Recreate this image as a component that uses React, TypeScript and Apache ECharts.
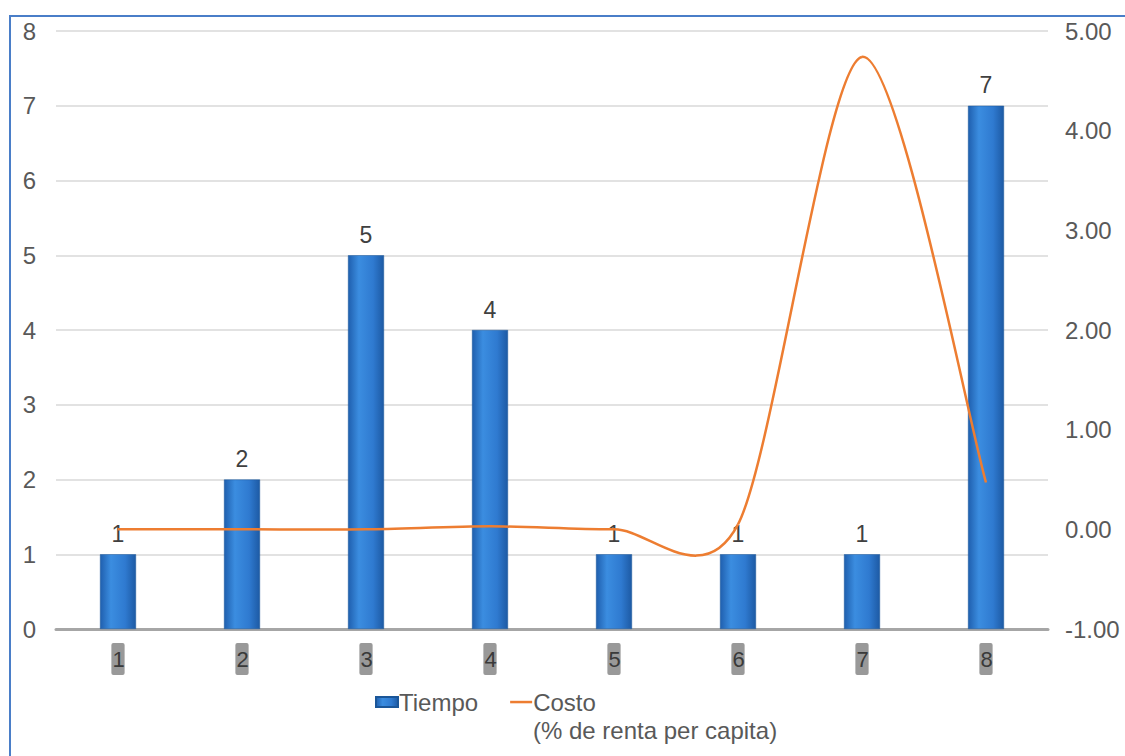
import React, { useEffect, useRef } from "react";
import * as echarts from "echarts";

const categories = ["1", "2", "3", "4", "5", "6", "7", "8"];
const tiempo = [1, 2, 5, 4, 1, 1, 1, 7];
const costo = [0.0, 0.0, 0.0, 0.03, 0.0, 0.05, 4.74, 0.47];
const leftTicks = { min: 0, max: 8, interval: 1 };
const rightTicks = { min: -1, max: 5, interval: 1 };

const FONT = "'Liberation Sans', Arial, sans-serif";
const ORANGE = "#ed7d31";
// Tension of the smoothed cost curve (fraction of the neighbour chord)
const TENSION = 1 / 7;

export default function App() {
  const ref = useRef<HTMLDivElement>(null);

  useEffect(() => {
    if (!ref.current) return;
    const chart = echarts.init(ref.current, undefined, { renderer: "svg" });
    const barGradient = new echarts.graphic.LinearGradient(0, 0, 1, 0, [
      { offset: 0, color: "#1f5fae" },
      { offset: 0.3, color: "#3b8de0" },
      { offset: 0.7, color: "#2f7ad0" },
      { offset: 1, color: "#1d5aa4" },
    ]);

    // Smoothed curve through every cost point, placed with the chart's own axes
    const renderCurve = (params: any, api: any) => {
      if (params.dataIndex !== 0) return null;
      const pts = costo.map((v, i) => api.coord([i, v]));
      const n = pts.length;
      const children: any[] = [];
      for (let i = 0; i < n - 1; i++) {
        const p0 = pts[Math.max(0, i - 1)];
        const p1 = pts[i];
        const p2 = pts[i + 1];
        const p3 = pts[Math.min(n - 1, i + 2)];
        children.push({
          type: "bezierCurve",
          shape: {
            x1: p1[0],
            y1: p1[1],
            cpx1: p1[0] + (p2[0] - p0[0]) * TENSION,
            cpy1: p1[1] + (p2[1] - p0[1]) * TENSION,
            cpx2: p2[0] - (p3[0] - p1[0]) * TENSION,
            cpy2: p2[1] - (p3[1] - p1[1]) * TENSION,
            x2: p2[0],
            y2: p2[1],
          },
          style: { stroke: ORANGE, lineWidth: 2.5, fill: "none" },
        });
      }
      return { type: "group", children };
    };

    chart.setOption({
      animation: false,
      backgroundColor: "#ffffff",
      textStyle: { fontFamily: FONT },
      grid: { left: 56, right: 77, top: 31, bottom: 127 },
      legend: {
        left: 370,
        top: 685,
        itemWidth: 22,
        itemHeight: 10,
        itemGap: 32,
        textStyle: { fontSize: 24, color: "#595959", fontFamily: FONT, padding: [0, 0, 0, -4] },
        data: [
          { name: "Tiempo", icon: "rect" },
          { name: "Costo", icon: "path://M0,0 L0,0 M0,3.8 L22,3.8 L22,6.3 L0,6.3 Z M22,10 L22,10" },
        ],
      },
      xAxis: {
        type: "category",
        data: categories,
        axisLine: { lineStyle: { color: "#a6a6a6", width: 3 } },
        axisTick: { show: false },
        axisLabel: {
          margin: 14,
          fontSize: 22,
          color: "#3a3a3a",
          backgroundColor: "#999999",
          padding: [5, 0, 5, 1],
          borderRadius: 2,
        },
      },
      yAxis: [
        {
          type: "value",
          ...leftTicks,
          axisLine: { show: false },
          axisTick: { show: false },
          axisLabel: { fontSize: 24, color: "#595959", margin: 20 },
          splitLine: { lineStyle: { color: "#d9d9d9", width: 1.5 } },
        },
        {
          type: "value",
          ...rightTicks,
          position: "right",
          axisLine: { show: false },
          axisTick: { show: false },
          axisLabel: {
            fontSize: 24,
            color: "#595959",
            margin: 17,
            formatter: (v: number) => v.toFixed(2),
          },
          splitLine: { show: false },
        },
      ],
      series: [
        {
          name: "Tiempo",
          type: "bar",
          data: tiempo,
          barWidth: 36,
          itemStyle: { color: barGradient, borderColor: "#1b5698", borderWidth: 0.5 },
          label: {
            show: true,
            position: "top",
            distance: 9,
            fontSize: 23,
            color: "#404040",
          },
        },
        {
          name: "Costo",
          type: "custom",
          yAxisIndex: 1,
          data: costo.map((v, i) => [i, v]),
          encode: { x: 0, y: 1 },
          renderItem: renderCurve,
          itemStyle: { color: ORANGE },
          z: 3,
        },
      ],
      graphic: [
        {
          type: "text",
          left: 533,
          top: 718,
          style: {
            text: "(% de renta per capita)",
            fontSize: 24,
            fill: "#595959",
            fontFamily: FONT,
          },
        },
        {
          type: "rect",
          shape: { x: 10, y: 16, width: 1200, height: 800 },
          style: { fill: "none", stroke: "#4a7ec8", lineWidth: 2 },
          silent: true,
        },
      ],
    });
    return () => chart.dispose();
  }, []);

  return (
    <div
      ref={ref}
      style={{ position: "fixed", left: 0, top: 0, width: 1125, height: 756 }}
    />
  );
}
